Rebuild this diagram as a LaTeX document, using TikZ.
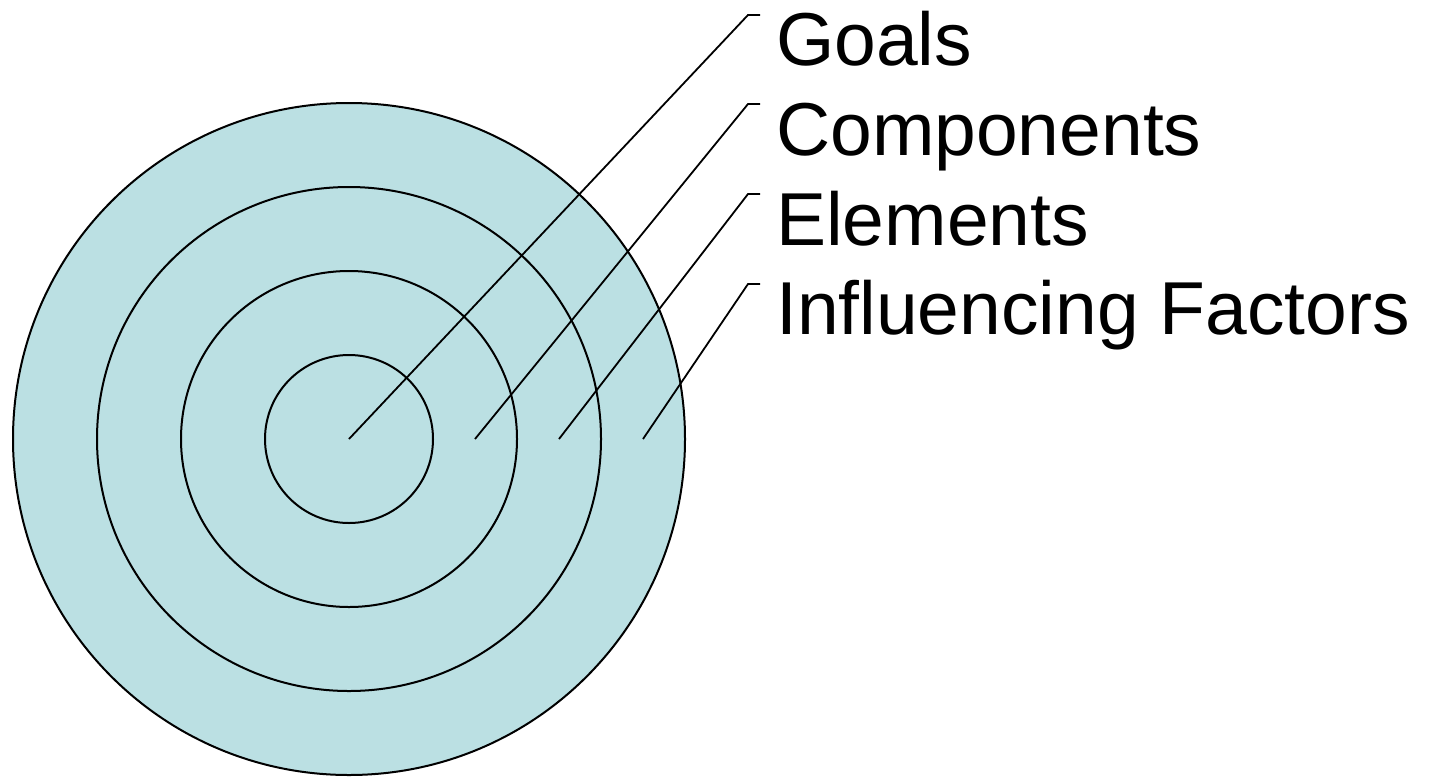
\documentclass[tikz,border=0pt]{standalone}
\usepackage{fontspec}
\setmainfont{Liberation Sans}
\definecolor{ringfill}{HTML}{BBE0E3}
\begin{document}
\begin{tikzpicture}[x=1pt,y=-1pt,
  ring/.style={draw=black,line width=2pt},
  leader/.style={draw=black,line width=1.8pt},
  lbl/.style={anchor=base west,inner sep=0pt,font=\fontsize{75}{80}\selectfont}]
\useasboundingbox (0,0) rectangle (1437,777);
\fill[ringfill] (349,439) circle[radius=336];
\draw[ring] (349,439) circle[radius=336];
\draw[ring] (349,439) circle[radius=252];
\draw[ring] (349,439) circle[radius=168];
\draw[ring] (349,439) circle[radius=84];
\coordinate (s1) at (349,439);
\coordinate (s2) at (475,439);
\coordinate (s3) at (559,439);
\coordinate (s4) at (643,439);
\coordinate (k1) at (748,15);
\coordinate (k2) at (748,104);
\coordinate (k3) at (748,194);
\coordinate (k4) at (748,284);
\coordinate (e1) at (760,15);
\coordinate (e2) at (760,104);
\coordinate (e3) at (760,194);
\coordinate (e4) at (760,284);
\node[lbl] (t1) at (776,65) {Goals};
\node[lbl] (t2) at (776,155) {Components};
\node[lbl] (t3) at (776,245) {Elements};
\node[lbl] (t4) at (776,334) {Influencing Factors};
\draw[leader] (s1) -- (k1) -- (e1);
\draw[leader] (s2) -- (k2) -- (e2);
\draw[leader] (s3) -- (k3) -- (e3);
\draw[leader] (s4) -- (k4) -- (e4);
\end{tikzpicture}
\end{document}
